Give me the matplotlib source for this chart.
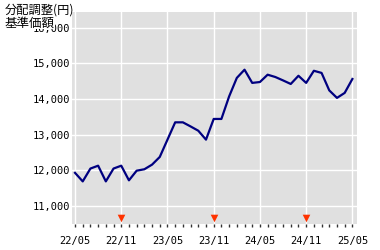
import matplotlib
matplotlib.use("Agg")
import matplotlib.pyplot as plt

# monthly NAV, 2022/05 .. 2025/05
months = ["22/05", "22/06", "22/07", "22/08", "22/09", "22/10", "22/11", "22/12",
          "23/01", "23/02", "23/03", "23/04", "23/05", "23/06", "23/07", "23/08",
          "23/09", "23/10", "23/11", "23/12", "24/01", "24/02", "24/03", "24/04",
          "24/05", "24/06", "24/07", "24/08", "24/09", "24/10", "24/11", "24/12",
          "25/01", "25/02", "25/03", "25/04", "25/05"]
nav = [11930, 11690, 12050, 12130, 11690, 12050, 12130, 11720,
       11990, 12030, 12160, 12375, 12860, 13345, 13345, 13230,
       13110, 12860, 13440, 13440, 14070, 14590, 14820, 14450,
       14475, 14680, 14615, 14520, 14420, 14650, 14450, 14790,
       14730, 14240, 14030, 14170, 14560]
dist_months = ["22/11", "23/11", "24/11"]
tick_labels = ["22/05", "22/11", "23/05", "23/11", "24/05", "24/11", "25/05"]
y_ticks = [11000, 12000, 13000, 14000, 15000, 16000]

x = list(range(len(months)))
dist_x = [months.index(m) for m in dist_months]
tick_x = [months.index(m) for m in tick_labels]

fig = plt.figure(figsize=(3.8, 2.5), dpi=100)
ax = fig.add_axes([0.1895, 0.104, 0.75, 0.848])
ax.set_facecolor("#e0e0e0")
for s in ax.spines.values():
    s.set_visible(False)

ax.set_xlim(-0.39, 36.6)
ax.set_ylim(10496, 16437)

ax.set_xticks(tick_x)
ax.set_xticklabels(tick_labels, family="DejaVu Sans Mono", fontsize=7.5)
ax.set_xticks(x, minor=True)
ax.set_yticks(y_ticks)
ax.set_yticklabels([f"{v:,}" for v in y_ticks], family="DejaVu Sans Mono", fontsize=7.5)
ax.tick_params(axis="x", which="both", length=2.5, width=1, color="#333333", pad=6)
ax.tick_params(axis="y", length=0, pad=1.5)
ax.grid(True, color="white", linewidth=1)
ax.set_axisbelow(True)

ax.plot(x, nav, color="#000080", linewidth=1.6)
ax.scatter(dist_x, [10664] * len(dist_x), marker="v", s=30, color="#ff3300",
           zorder=3, linewidths=0)

cjk = ["Noto Sans CJK JP", "DejaVu Sans"]
fig.text(0.013, 0.985, "分配調整(円)", family=cjk, fontsize=8.8, va="top", ha="left")
fig.text(0.013, 0.935, "基準価額", family=cjk, fontsize=9, va="top", ha="left",
         bbox=dict(facecolor="white", edgecolor="none", pad=0))

fig.savefig("out.png", dpi=100)
